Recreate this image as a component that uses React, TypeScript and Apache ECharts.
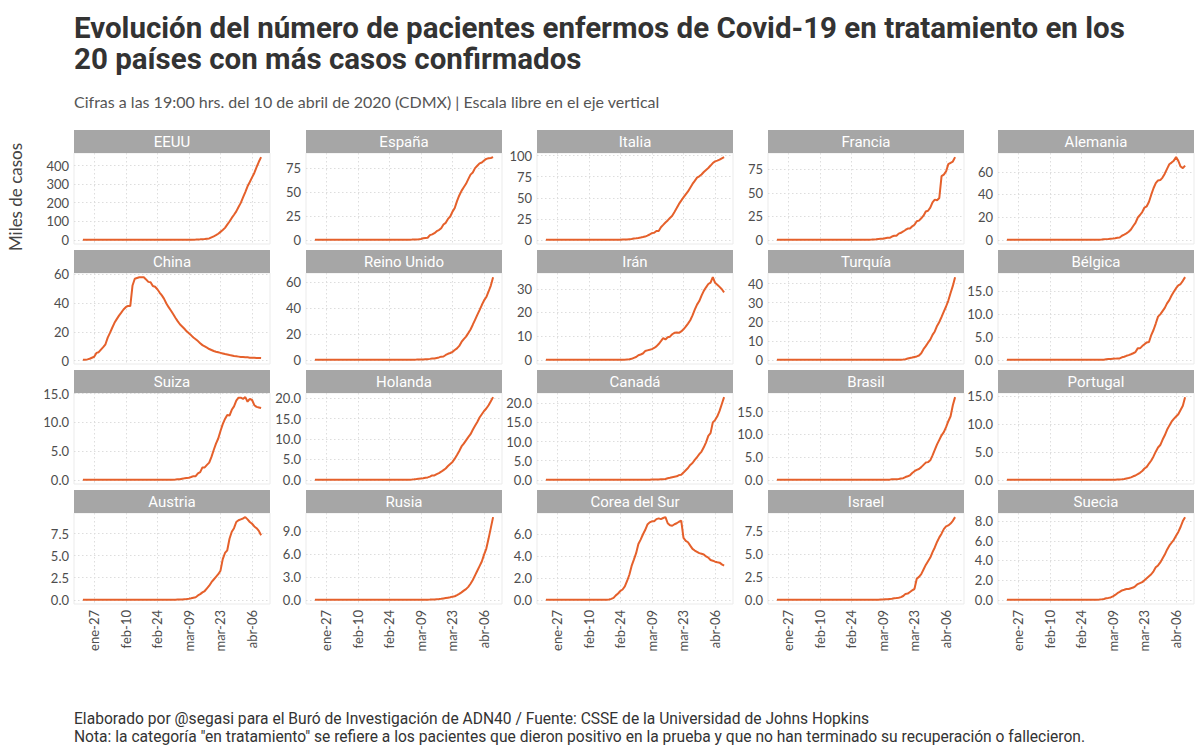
import React, { useEffect, useRef } from "react";
import * as echarts from "echarts";

// ---------- DATA (miles de casos activos, 22-ene a 10-abr 2020) ----------
const countries = [
  "EEUU", "España", "Italia", "Francia", "Alemania",
  "China", "Reino Unido", "Irán", "Turquía", "Bélgica",
  "Suiza", "Holanda", "Canadá", "Brasil", "Portugal",
  "Austria", "Rusia", "Corea del Sur", "Israel", "Suecia",
];

const xTickDays = [5, 19, 33, 47, 61, 75];
const xTickLabels = ["ene-27", "feb-10", "feb-24", "mar-09", "mar-23", "abr-06"];
const lastDay = 79;

// rows: ene 22-31 | feb 1-10 | feb 11-20 | feb 21-29 | mar 1-10 | mar 11-20 | mar 21-31 | abr 1-10
const eeuu = [
  0, 0, 0, 0, 0, 0, 0, 0, 0, 0,
  0, 0, 0, 0, 0, 0, 0, 0, 0, 0,
  0, 0, 0, 0, 0, 0, 0, 0, 0, 0,
  0, 0, 0, 0, 0, 0, 0, 0, 0.05,
  0.07, 0.09, 0.11, 0.14, 0.2, 0.24, 0.38, 0.49, 0.59, 0.93,
  1.24, 1.6, 2.1, 2.7, 3.4, 4.5, 6.3, 7.6, 13.5, 19,
  25.2, 33, 43, 52.7, 64.5, 82, 99, 118, 135, 153, 177,
  199, 228, 257, 288, 311, 336, 360, 391, 420, 445,
];
const espana = [
  0, 0, 0, 0, 0, 0, 0, 0, 0, 0,
  0, 0, 0, 0, 0, 0, 0, 0, 0, 0,
  0, 0, 0, 0, 0, 0, 0, 0, 0, 0,
  0, 0, 0, 0, 0.01, 0.01, 0.02, 0.03, 0.05,
  0.08, 0.12, 0.16, 0.2, 0.26, 0.37, 0.5, 0.63, 1.0, 1.6,
  2.0, 2.2, 4.9, 5.7, 7.0, 9.1, 10.2, 12.2, 16.0, 17.8,
  21.9, 24.4, 29.5, 33.3, 40.5, 46.4, 51.2, 55.0, 58.6, 63.5, 68.2,
  70.4, 75.0, 77.5, 80.0, 80.9, 82.9, 84.7, 85.4, 85.6, 86.5,
];
const italia = [
  0, 0, 0, 0, 0, 0, 0, 0, 0, 0,
  0, 0, 0, 0, 0, 0, 0, 0, 0, 0,
  0, 0, 0, 0, 0, 0, 0, 0, 0, 0,
  0.02, 0.06, 0.15, 0.22, 0.31, 0.39, 0.53, 0.82, 1.05,
  1.58, 1.84, 2.26, 2.71, 3.3, 3.92, 5.06, 6.39, 7.99, 8.51,
  10.59, 10.6, 14.96, 17.75, 20.6, 23.07, 26.06, 28.71, 33.19, 37.86,
  42.68, 46.64, 50.42, 54.03, 57.52, 62.01, 66.41, 70.07, 73.88, 75.53, 77.64,
  80.57, 83.05, 85.39, 88.27, 91.25, 93.19, 94.07, 95.26, 96.88, 98.27,
];
const francia = [
  0, 0, 0, 0, 0, 0, 0, 0, 0, 0,
  0, 0, 0, 0, 0, 0, 0, 0, 0, 0,
  0, 0, 0, 0, 0, 0, 0, 0, 0, 0,
  0, 0, 0, 0.01, 0.01, 0.02, 0.03, 0.04, 0.08,
  0.1, 0.18, 0.19, 0.27, 0.36, 0.63, 0.92, 1.1, 1.17, 1.73,
  2.23, 2.23, 3.55, 4.34, 4.3, 6.6, 7.5, 8.9, 10.5, 12.0,
  12.0, 14.4, 16.0, 19.7, 20.4, 22.9, 25.7, 30.1, 30.9, 34.2, 39.8,
  42.7, 42.0, 44.5, 67.7, 69.3, 72.6, 80.4, 81.8, 83.1, 87.8,
];
const alemania = [
  0, 0, 0, 0, 0, 0, 0, 0, 0, 0,
  0, 0, 0, 0, 0, 0, 0, 0, 0, 0,
  0, 0, 0, 0, 0, 0, 0, 0, 0, 0,
  0, 0, 0, 0, 0, 0.01, 0.03, 0.04, 0.06,
  0.1, 0.14, 0.18, 0.24, 0.46, 0.65, 0.78, 1.0, 1.15, 1.44,
  1.88, 2.05, 3.65, 4.55, 5.7, 7.1, 9.1, 12.2, 14.9, 19.5,
  21.9, 24.5, 28.5, 29.6, 33.6, 39.8, 45.5, 50.0, 52.4, 52.7, 54.9,
  58.3, 62.6, 66.6, 68.1, 69.8, 72.9, 69.6, 64.6, 63.2, 65.5,
];
const china = [
  0.55, 0.6, 0.9, 1.3, 2.0, 2.7, 5.4, 5.9, 7.7, 9.4,
  11.4, 16.0, 19.3, 22.9, 26.3, 28.9, 31.3, 33.4, 35.6, 37.2,
  38.1, 38.0, 52.3, 57.0, 57.5, 58.0, 58.1, 58.0, 56.5, 54.8,
  54.6, 51.9, 51.4, 49.7, 47.4, 45.4, 43.0, 39.8, 37.2,
  34.9, 32.4, 29.9, 27.5, 25.3, 23.8, 22.2, 20.4, 19.0, 17.6,
  16.1, 14.9, 13.6, 12.1, 10.8, 9.9, 9.0, 8.1, 7.4, 6.7,
  6.2, 5.8, 5.4, 5.0, 4.6, 4.3, 3.9, 3.6, 3.2, 3.0, 2.8,
  2.6, 2.5, 2.4, 2.3, 2.1, 2.0, 2.0, 1.9, 1.9, 1.8,
];
const reinoUnido = [
  0, 0, 0, 0, 0, 0, 0, 0, 0, 0,
  0, 0, 0, 0, 0, 0, 0, 0, 0, 0,
  0, 0, 0, 0, 0, 0, 0, 0, 0, 0,
  0, 0, 0, 0, 0, 0, 0, 0.01, 0.02,
  0.03, 0.04, 0.05, 0.08, 0.11, 0.16, 0.2, 0.27, 0.3, 0.36,
  0.44, 0.44, 0.76, 1.1, 1.1, 1.5, 1.9, 2.5, 2.6, 3.8,
  4.7, 5.3, 6.2, 7.6, 8.9, 10.8, 13.9, 16.1, 18.0, 20.7, 23.5,
  27.2, 31.0, 34.8, 38.5, 42.4, 46.0, 48.6, 52.9, 57.5, 64.0,
];
const iran = [
  0, 0, 0, 0, 0, 0, 0, 0, 0, 0,
  0, 0, 0, 0, 0, 0, 0, 0, 0, 0,
  0, 0, 0, 0, 0, 0, 0, 0, 0, 0.01,
  0.02, 0.02, 0.04, 0.05, 0.08, 0.1, 0.2, 0.29, 0.45,
  0.85, 1.22, 1.97, 2.28, 2.67, 3.71, 4.0, 4.24, 4.53, 5.02,
  5.69, 6.69, 7.89, 9.16, 8.62, 9.55, 9.79, 10.8, 11.4, 11.5,
  11.4, 12.0, 12.9, 14.0, 15.3, 16.7, 18.8, 21.2, 23.3, 24.8, 27.1,
  29.1, 30.6, 32.0, 32.6, 34.9, 32.5, 31.7, 30.8, 29.8, 28.5,
];
const turquia = [
  0, 0, 0, 0, 0, 0, 0, 0, 0, 0,
  0, 0, 0, 0, 0, 0, 0, 0, 0, 0,
  0, 0, 0, 0, 0, 0, 0, 0, 0, 0,
  0, 0, 0, 0, 0, 0, 0, 0, 0,
  0, 0, 0, 0, 0, 0, 0, 0, 0, 0,
  0, 0, 0.01, 0.01, 0.02, 0.05, 0.1, 0.19, 0.36, 0.67,
  0.94, 1.2, 1.5, 1.8, 2.3, 3.5, 5.6, 7.2, 9.0, 10.6, 13.1,
  14.9, 17.8, 19.9, 22.5, 25.3, 28.0, 31.1, 35.1, 38.8, 43.4,
];
const belgica = [
  0, 0, 0, 0, 0, 0, 0, 0, 0, 0,
  0, 0, 0, 0, 0, 0, 0, 0, 0, 0,
  0, 0, 0, 0, 0, 0, 0, 0, 0, 0,
  0, 0, 0, 0, 0, 0, 0, 0, 0,
  0, 0, 0.01, 0.01, 0.05, 0.11, 0.17, 0.2, 0.24, 0.27,
  0.31, 0.31, 0.55, 0.68, 0.88, 1.04, 1.23, 1.44, 1.7, 2.5,
  2.5, 3.0, 3.4, 3.8, 3.9, 5.4, 6.5, 7.9, 9.4, 9.9, 10.6,
  11.3, 12.3, 13.0, 14.0, 14.8, 15.6, 16.2, 16.5, 17.2, 18.0,
];
const suiza = [
  0, 0, 0, 0, 0, 0, 0, 0, 0, 0,
  0, 0, 0, 0, 0, 0, 0, 0, 0, 0,
  0, 0, 0, 0, 0, 0, 0, 0, 0, 0,
  0, 0, 0, 0, 0, 0, 0.01, 0.01, 0.02,
  0.03, 0.04, 0.06, 0.09, 0.11, 0.21, 0.27, 0.34, 0.37, 0.49,
  0.64, 0.64, 1.12, 1.34, 2.17, 2.17, 2.61, 3.0, 4.0, 5.2,
  6.3, 7.2, 8.5, 9.7, 10.6, 11.3, 11.2, 12.2, 12.8, 13.8, 14.3,
  14.3, 14.1, 14.4, 13.6, 14.1, 13.9, 13.0, 12.7, 12.6, 12.5,
];
const holanda = [
  0, 0, 0, 0, 0, 0, 0, 0, 0, 0,
  0, 0, 0, 0, 0, 0, 0, 0, 0, 0,
  0, 0, 0, 0, 0, 0, 0, 0, 0, 0,
  0, 0, 0, 0, 0, 0, 0, 0, 0,
  0.01, 0.02, 0.02, 0.04, 0.08, 0.13, 0.19, 0.26, 0.32, 0.38,
  0.5, 0.6, 0.8, 1.1, 1.1, 1.4, 1.65, 2.0, 2.4, 2.8,
  3.4, 3.9, 4.4, 5.2, 6.1, 7.1, 8.2, 8.9, 9.7, 10.5, 11.2,
  12.3, 13.3, 14.2, 15.3, 16.1, 16.9, 17.5, 18.3, 19.3, 20.3,
];
const canada = [
  0, 0, 0, 0, 0, 0, 0, 0, 0, 0,
  0, 0, 0, 0, 0, 0, 0, 0, 0, 0,
  0, 0, 0, 0, 0, 0, 0, 0, 0, 0,
  0, 0, 0, 0, 0, 0, 0, 0.01, 0.01,
  0.02, 0.02, 0.02, 0.03, 0.04, 0.04, 0.05, 0.06, 0.07, 0.08,
  0.1, 0.12, 0.18, 0.19, 0.24, 0.42, 0.55, 0.7, 0.83, 0.92,
  1.24, 1.34, 1.9, 2.5, 3.1, 3.9, 4.4, 5.2, 5.9, 6.7, 7.4,
  8.5, 9.8, 11.5, 12.2, 15.0, 15.6, 16.6, 18.0, 19.8, 21.6,
];
const brasil = [
  0, 0, 0, 0, 0, 0, 0, 0, 0, 0,
  0, 0, 0, 0, 0, 0, 0, 0, 0, 0,
  0, 0, 0, 0, 0, 0, 0, 0, 0, 0,
  0, 0, 0, 0, 0, 0, 0, 0, 0,
  0, 0, 0, 0, 0.01, 0.01, 0.02, 0.02, 0.03, 0.03,
  0.04, 0.05, 0.15, 0.15, 0.16, 0.2, 0.32, 0.37, 0.62, 0.79,
  1.0, 1.5, 1.9, 2.2, 2.4, 2.8, 3.3, 3.8, 3.9, 4.3, 5.4,
  6.6, 7.8, 8.8, 9.8, 10.5, 11.6, 12.9, 14.0, 16.4, 18.2,
];
const portugal = [
  0, 0, 0, 0, 0, 0, 0, 0, 0, 0,
  0, 0, 0, 0, 0, 0, 0, 0, 0, 0,
  0, 0, 0, 0, 0, 0, 0, 0, 0, 0,
  0, 0, 0, 0, 0, 0, 0, 0, 0,
  0, 0, 0, 0.01, 0.01, 0.01, 0.02, 0.03, 0.04, 0.04,
  0.06, 0.08, 0.11, 0.17, 0.25, 0.33, 0.45, 0.64, 0.78, 1.01,
  1.26, 1.58, 2.03, 2.33, 2.92, 3.47, 4.19, 5.04, 5.79, 6.23, 7.17,
  7.98, 8.96, 9.7, 10.41, 10.91, 11.33, 11.74, 12.51, 13.27, 14.8,
];
const austria = [
  0, 0, 0, 0, 0, 0, 0, 0, 0, 0,
  0, 0, 0, 0, 0, 0, 0, 0, 0, 0,
  0, 0, 0, 0, 0, 0, 0, 0, 0, 0,
  0, 0, 0, 0, 0, 0, 0, 0.01, 0.01,
  0.01, 0.02, 0.02, 0.03, 0.04, 0.05, 0.08, 0.1, 0.13, 0.18,
  0.24, 0.3, 0.5, 0.65, 0.85, 1.0, 1.3, 1.6, 2.0, 2.3,
  2.6, 2.9, 3.3, 4.6, 5.3, 5.6, 6.9, 7.7, 8.1, 8.8, 9.0,
  9.1, 9.2, 9.35, 9.1, 8.8, 8.6, 8.3, 8.1, 7.8, 7.3,
];
const rusia = [
  0, 0, 0, 0, 0, 0, 0, 0, 0, 0,
  0, 0, 0, 0, 0, 0, 0, 0, 0, 0,
  0, 0, 0, 0, 0, 0, 0, 0, 0, 0,
  0, 0, 0, 0, 0, 0, 0, 0, 0,
  0, 0, 0, 0, 0, 0, 0, 0.01, 0.01, 0.01,
  0.02, 0.03, 0.04, 0.06, 0.06, 0.09, 0.11, 0.14, 0.19, 0.24,
  0.29, 0.34, 0.42, 0.47, 0.62, 0.78, 0.98, 1.2, 1.4, 1.7, 2.1,
  2.6, 3.2, 3.8, 4.4, 5.0, 5.9, 6.7, 8.0, 9.4, 10.8,
];
const coreaDelSur = [
  0, 0, 0, 0, 0, 0, 0, 0, 0, 0,
  0.01, 0.01, 0.01, 0.01, 0.02, 0.02, 0.02, 0.02, 0.02, 0.02,
  0.02, 0.02, 0.02, 0.02, 0.02, 0.02, 0.02, 0.02, 0.03, 0.09,
  0.18, 0.41, 0.58, 0.81, 0.95, 1.23, 1.73, 2.3, 3.11,
  3.69, 4.28, 5.12, 5.52, 5.99, 6.4, 6.9, 7.1, 7.2, 7.2,
  7.4, 7.47, 7.4, 7.5, 7.58, 7.02, 6.83, 6.79, 6.93, 7.02,
  7.16, 7.25, 5.68, 5.41, 5.28, 4.97, 4.67, 4.52, 4.4, 4.28, 4.22,
  4.16, 3.98, 3.87, 3.65, 3.59, 3.5, 3.45, 3.41, 3.25, 3.13,
];
const israel = [
  0, 0, 0, 0, 0, 0, 0, 0, 0, 0,
  0, 0, 0, 0, 0, 0, 0, 0, 0, 0,
  0, 0, 0, 0, 0, 0, 0, 0, 0, 0,
  0, 0, 0, 0, 0, 0, 0, 0, 0,
  0.01, 0.01, 0.01, 0.01, 0.02, 0.02, 0.02, 0.03, 0.04, 0.06,
  0.07, 0.1, 0.12, 0.17, 0.2, 0.24, 0.3, 0.42, 0.65, 0.68,
  0.86, 1.04, 1.2, 2.3, 2.5, 2.8, 3.3, 3.8, 4.2, 4.6, 5.2,
  5.7, 6.3, 6.8, 7.2, 7.7, 8.0, 8.1, 8.3, 8.6, 9.0,
];
const suecia = [
  0, 0, 0, 0, 0, 0, 0, 0, 0, 0,
  0, 0, 0, 0, 0, 0, 0, 0, 0, 0,
  0, 0, 0, 0, 0, 0, 0, 0, 0, 0,
  0, 0, 0, 0, 0, 0, 0, 0, 0.01,
  0.01, 0.02, 0.03, 0.05, 0.09, 0.16, 0.2, 0.25, 0.35, 0.5,
  0.68, 0.81, 0.96, 1.02, 1.1, 1.1, 1.18, 1.25, 1.4, 1.6,
  1.7, 1.8, 2.0, 2.2, 2.4, 2.6, 2.9, 3.3, 3.5, 3.8, 4.2,
  4.6, 5.1, 5.5, 5.8, 6.1, 6.5, 6.9, 7.4, 8.0, 8.4,
];

const seriesValues = [
  eeuu, espana, italia, francia, alemania,
  china, reinoUnido, iran, turquia, belgica,
  suiza, holanda, canada, brasil, portugal,
  austria, rusia, coreaDelSur, israel, suecia,
];

const yTicks = [
  [0, 100, 200, 300, 400], [0, 25, 50, 75], [0, 25, 50, 75, 100], [0, 25, 50, 75], [0, 20, 40, 60],
  [0, 20, 40, 60], [0, 20, 40, 60], [0, 10, 20, 30], [0, 10, 20, 30, 40], [0, 5, 10, 15],
  [0, 5, 10, 15], [0, 5, 10, 15, 20], [0, 5, 10, 15, 20], [0, 5, 10, 15], [0, 5, 10, 15],
  [0, 2.5, 5, 7.5], [0, 3, 6, 9], [0, 2, 4, 6], [0, 2.5, 5, 7.5], [0, 2, 4, 6, 8],
];
const yDecimals = [0, 0, 0, 0, 0, 0, 0, 0, 0, 1, 1, 1, 1, 1, 1, 1, 1, 1, 1, 1];

const titleLines = [
  "Evolución del número de pacientes enfermos de Covid-19 en tratamiento en los",
  "20 países con más casos confirmados",
];
const subtitle = "Cifras a las 19:00 hrs. del 10 de abril de 2020 (CDMX) | Escala libre en el eje vertical";
const yTitle = "Miles de casos";
const captionLines = [
  "Elaborado por @segasi para el Buró de Investigación de ADN40 / Fuente: CSSE de la Universidad de Johns Hopkins",
  "Nota: la categoría \"en tratamiento\" se refiere a los pacientes que dieron positivo en la prueba y que no han terminado su recuperación o fallecieron.",
];

// ---------- LAYOUT ----------
const colLeft = [74, 306, 537, 768, 998];
const rowTop = [153, 273, 393, 513];
const panelW = 196;
const panelH = 91;
const stripH = 23;
const lineColor = "#e5602b";
const tickFont = "Lato, 'Open Sans', sans-serif";

export default function App() {
  const ref = useRef<HTMLDivElement>(null);

  useEffect(() => {
    document.body.style.margin = "0";
    if (!ref.current) return;
    const chart = echarts.init(ref.current, undefined, { renderer: "svg" });

    const grids: any[] = [];
    const xAxes: any[] = [];
    const yAxes: any[] = [];
    const series: any[] = [];
    const graphics: any[] = [];

    countries.forEach((name, i) => {
      const r = Math.floor(i / 5);
      const c = i % 5;
      const left = colLeft[c];
      const top = rowTop[r];
      const vals = seriesValues[i];
      const lo = Math.min(...vals);
      const hi = Math.max(...vals);
      const pad = (hi - lo) * 0.05;

      grids.push({
        left, top, width: panelW, height: panelH,
        show: true, borderColor: "#ebebeb", borderWidth: 1, backgroundColor: "transparent",
      });
      xAxes.push({
        type: "value", gridIndex: i,
        min: -lastDay * 0.05, max: lastDay * 1.05,
        axisLine: { show: false },
        axisTick: { show: false, customValues: xTickDays },
        splitLine: { show: true, lineStyle: { color: "#dddddd", type: [1.5, 2.5], width: 1 } },
        axisLabel: {
          show: r === 3,
          customValues: xTickDays,
          rotate: 90,
          margin: 6,
          color: "#4d4d4d",
          fontSize: 13,
          fontFamily: tickFont,
          formatter: (v: number) => xTickLabels[xTickDays.indexOf(v)] ?? "",
        },
      });
      const dec = yDecimals[i];
      yAxes.push({
        type: "value", gridIndex: i,
        min: lo - pad, max: hi + pad,
        axisLine: { show: false },
        axisTick: { show: false, customValues: yTicks[i] },
        splitLine: { show: true, lineStyle: { color: "#dddddd", type: [1.5, 2.5], width: 1 } },
        axisLabel: {
          customValues: yTicks[i],
          margin: 5,
          color: "#4d4d4d",
          fontSize: 13,
          fontFamily: tickFont,
          formatter: (v: number) => v.toFixed(dec),
        },
      });
      series.push({
        type: "line", xAxisIndex: i, yAxisIndex: i,
        data: vals.map((v, d) => [d, v]),
        showSymbol: false, symbol: "none",
        lineStyle: { color: lineColor, width: 2 },
        itemStyle: { color: lineColor },
        silent: true,
      });
      graphics.push({
        type: "rect",
        shape: { x: left, y: top - stripH, width: panelW, height: stripH },
        style: { fill: "#a6a6a6" },
      });
      graphics.push({
        type: "text",
        x: left + panelW / 2, y: top - stripH / 2,
        style: {
          text: name, fill: "#ffffff", font: "15px Roboto, sans-serif",
          textAlign: "center", textVerticalAlign: "middle",
        },
      });
    });

    graphics.push({
      type: "text", x: 74, y: 28,
      style: { text: titleLines[0], fill: "#333333", font: "bold 29.5px Roboto, sans-serif", textVerticalAlign: "middle" },
    });
    graphics.push({
      type: "text", x: 74, y: 59,
      style: { text: titleLines[1], fill: "#333333", font: "bold 29.5px Roboto, sans-serif", textVerticalAlign: "middle" },
    });
    graphics.push({
      type: "text", x: 74, y: 101,
      style: { text: subtitle, fill: "#555555", font: "16px Lato, sans-serif", textVerticalAlign: "middle" },
    });
    graphics.push({
      type: "text", x: 15, y: 197, rotation: Math.PI / 2,
      style: { text: yTitle, fill: "#444444", font: "17px Lato, sans-serif", textAlign: "center", textVerticalAlign: "middle" },
    });
    graphics.push({
      type: "text", x: 74, y: 719,
      style: { text: captionLines[0], fill: "#333333", font: "15.6px Roboto, sans-serif", textVerticalAlign: "middle" },
    });
    graphics.push({
      type: "text", x: 74, y: 737,
      style: { text: captionLines[1], fill: "#333333", font: "15.6px Roboto, sans-serif", textVerticalAlign: "middle" },
    });

    chart.setOption({
      animation: false,
      backgroundColor: "#ffffff",
      grid: grids,
      xAxis: xAxes,
      yAxis: yAxes,
      series,
      graphic: { elements: graphics },
    });

    return () => chart.dispose();
  }, []);

  return <div ref={ref} style={{ width: 1200, height: 750 }} />;
}
